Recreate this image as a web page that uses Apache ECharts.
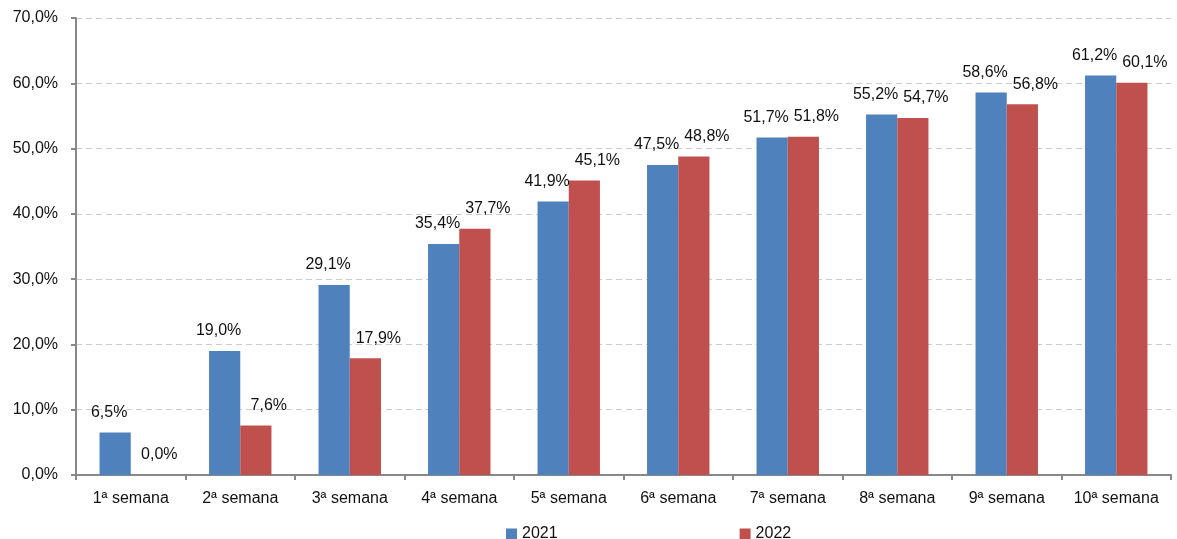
<!DOCTYPE html>
<html><head><meta charset="utf-8">
<script src="https://cdn.jsdelivr.net/npm/echarts@6/dist/echarts.min.js"></script>
<style>html,body{margin:0;padding:0;background:#fff}#c{width:1177px;height:539px}</style>
</head><body><div id="c"></div>
<script>
const categories = ['1ª semana','2ª semana','3ª semana','4ª semana','5ª semana','6ª semana','7ª semana','8ª semana','9ª semana','10ª semana'];
const series2021 = [6.5,19.0,29.1,35.4,41.9,47.5,51.7,55.2,58.6,61.2];
const series2022 = [0.0,7.6,17.9,37.7,45.1,48.8,51.8,54.7,56.8,60.1];
const yTicks = [0,10,20,30,40,50,60,70];

const fmt = v => v.toFixed(1).replace('.', ',') + '%';
const font = 'Liberation Sans, Arial, sans-serif';
const chart = echarts.init(document.getElementById('c'));
const labelBase = {show:true,position:'top',distance:12,fontSize:16,color:'#111',fontFamily:font,formatter:p=>fmt(p.value)};
chart.setOption({
  animation:false,
  textStyle:{fontFamily:font},
  grid:{left:76,right:6,top:18,bottom:64},
  legend:{left:501,top:521,itemWidth:11,itemHeight:11,itemGap:182,icon:'rect',
    textStyle:{fontSize:16,color:'#111',fontFamily:font},
    data:['2021','2022']},
  xAxis:{type:'category',data:categories,
    axisLine:{lineStyle:{color:'#888',width:2}},
    axisTick:{show:true,interval:0,length:5,lineStyle:{color:'#888',width:2}},
    axisLabel:{interval:0,fontSize:16,color:'#111',margin:16,fontFamily:font}},
  yAxis:{type:'value',min:yTicks[0],max:yTicks[yTicks.length-1],interval:10,
    axisLine:{show:true,lineStyle:{color:'#888',width:2}},
    axisTick:{show:true,length:5,lineStyle:{color:'#888',width:2}},
    axisLabel:{fontSize:16,color:'#111',margin:18,formatter:v=>fmt(v),fontFamily:font},
    splitLine:{lineStyle:{color:'#ccc',type:[6,4],width:1.2}}},
  series:[
    {name:'2021',type:'bar',data:series2021,barGap:'0%',barCategoryGap:'43%',
     itemStyle:{color:'#4F81BD'},
     label:Object.assign({},labelBase,{offset:[-6,0]})},
    {name:'2022',type:'bar',data:series2022,
     itemStyle:{color:'#C0504D'},
     label:Object.assign({},labelBase,{offset:[13,0]})}
  ]
});
</script></body></html>
